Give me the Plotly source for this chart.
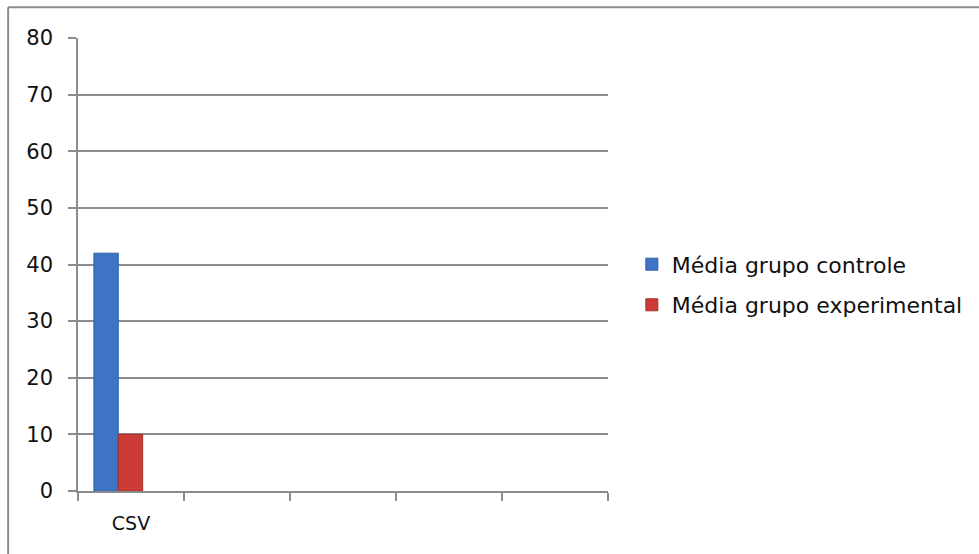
import plotly.graph_objects as go

categories = ["CSV", " ", "  ", "   ", "    "]
series_names = ["Média grupo controle", "Média grupo experimental"]
controle = [42]
experimental = [10]
y_ticks = [0, 10, 20, 30, 40, 50, 60, 70, 80]

FONT = "'DejaVu Sans', Arial, sans-serif"
GRID = "#8c8c8c"
TXT = "#111111"

fig = go.Figure()
fig.add_trace(go.Bar(
    x=categories[:1], y=controle, name=series_names[0],
    marker=dict(color="#3d74c4", line=dict(color="#2f62ad", width=1)),
    width=0.23, offset=-0.35, legendgroup="a",
))
fig.add_trace(go.Bar(
    x=categories[:1], y=experimental, name=series_names[1],
    marker=dict(color="#cc3b36", line=dict(color="#a82e2a", width=1)),
    width=0.23, offset=-0.12, legendgroup="b",
))

fig.update_layout(
    width=979, height=554,
    margin=dict(l=78, r=370, t=38, b=63),
    paper_bgcolor="white", plot_bgcolor="white",
    font=dict(family=FONT, size=20, color=TXT),
    showlegend=True,
    legend=dict(
        x=1.043, y=0.455, xanchor="left", yanchor="middle",
        font=dict(family=FONT, size=22, color=TXT),
        tracegroupgap=9, itemwidth=30,
        bgcolor="rgba(0,0,0,0)",
    ),
    xaxis=dict(
        type="category", categoryorder="array", categoryarray=categories,
        range=[-0.5, 4.5], tickson="boundaries",
        ticks="outside", ticklen=8, tickcolor=GRID, tickwidth=1.5,
        showline=True, linecolor=GRID, linewidth=1.5,
        showgrid=False, zeroline=False,
        tickfont=dict(family=FONT, size=19, color=TXT),
        ticklabelstandoff=14,
        fixedrange=True,
    ),
    yaxis=dict(
        range=[0, 80], tickvals=y_ticks,
        ticks="outside", ticklen=8, tickcolor=GRID, tickwidth=1.5,
        showline=True, linecolor=GRID, linewidth=1.5,
        showgrid=True, gridcolor=GRID, gridwidth=1.5,
        zeroline=False,
        tickfont=dict(family=FONT, size=21, color=TXT),
        ticklabelstandoff=11,
        fixedrange=True,
    ),
)

# outer chart border (left and top edges visible in reference)
fig.add_shape(type="line", xref="paper", yref="paper",
              x0=-0.1318, x1=1.75, y0=1.068, y1=1.068,
              line=dict(color="#8c8c8c", width=2))
fig.add_shape(type="line", xref="paper", yref="paper",
              x0=-0.1318, x1=-0.1318, y0=1.068, y1=-0.15,
              line=dict(color="#8c8c8c", width=2))

fig.write_html("out.html")
